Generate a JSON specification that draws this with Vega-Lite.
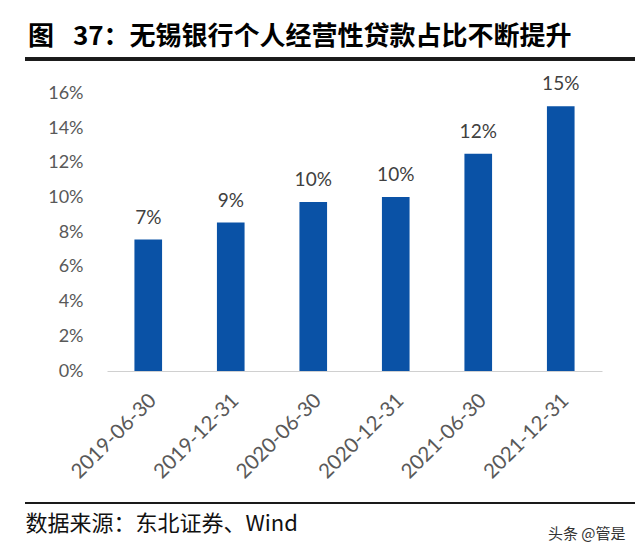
{
  "$schema": "https://vega.github.io/schema/vega-lite/v6.json",
  "autosize": "none",
  "width": 610,
  "height": 444,
  "padding": {"left": 25, "top": 59, "right": 5, "bottom": 52},
  "background": "white",
  "config": {
    "view": {"stroke": "#1a1a1a", "strokeWidth": 2, "strokeDash": [610, 444, 610, 444]}
  },
  "title": {
    "text": "图\u2002 37：无锡银行个人经营性贷款占比不断提升",
    "anchor": "start",
    "frame": "group",
    "font": "Noto Sans CJK SC",
    "fontSize": 26,
    "fontWeight": "bold",
    "color": "#000000",
    "dx": 3,
    "offset": 7
  },
  "data": {
    "values": [
      {"date": "2019-06-30", "ratio": 0.0757, "label": "7%"},
      {"date": "2019-12-31", "ratio": 0.0855, "label": "9%"},
      {"date": "2020-06-30", "ratio": 0.0973, "label": "10%"},
      {"date": "2020-12-31", "ratio": 0.1002, "label": "10%"},
      {"date": "2021-06-30", "ratio": 0.1252, "label": "12%"},
      {"date": "2021-12-31", "ratio": 0.1526, "label": "15%"}
    ]
  },
  "encoding": {
    "y": {
      "field": "ratio",
      "type": "quantitative",
      "scale": {"domain": [0, 0.16], "range": [312, 34.3], "nice": false, "zero": true},
      "axis": {
        "orient": "left",
        "offset": -62,
        "domain": false,
        "ticks": false,
        "grid": false,
        "values": [0, 0.02, 0.04, 0.06, 0.08, 0.1, 0.12, 0.14, 0.16],
        "format": ".0%",
        "labelPadding": 4,
        "labelFont": "Lato",
        "labelFontSize": 18,
        "labelColor": "#595959",
        "title": "头条 @管是",
        "titleFont": "Noto Sans CJK SC",
        "titleFontSize": 15,
        "titleFontWeight": "normal",
        "titleColor": "#333333",
        "titleAngle": 0,
        "titleAlign": "right",
        "titleBaseline": "middle",
        "titleX": 538,
        "titleY": 474
      }
    },
    "x": {
      "field": "date",
      "type": "nominal",
      "sort": null,
      "scale": {"range": [82, 577], "paddingInner": 0.665, "paddingOuter": 0.3325},
      "axis": {
        "orient": "bottom",
        "offset": -132,
        "domain": true,
        "domainColor": "#d0d0d0",
        "domainWidth": 1,
        "ticks": false,
        "labelAngle": -45,
        "labelAlign": "right",
        "labelBaseline": "middle",
        "labelPadding": 26,
        "labelOffset": 5,
        "labelFont": "Lato",
        "labelFontSize": 20.5,
        "labelColor": "#595959",
        "title": "数据来源：东北证券、Wind",
        "titleFont": "Noto Sans CJK SC",
        "titleFontSize": 22,
        "titleFontWeight": "normal",
        "titleColor": "#111111",
        "titleAlign": "left",
        "titleBaseline": "middle",
        "titleAngle": 0,
        "titleX": 0,
        "titleY": 152
      }
    }
  },
  "layer": [
    {"mark": {"type": "bar", "color": "#0a52a6"}},
    {
      "mark": {"type": "text", "baseline": "alphabetic", "dy": -16, "font": "Lato", "fontSize": 19, "color": "#404040"},
      "encoding": {"text": {"field": "label"}}
    },
    {
      "mark": {"type": "rule", "color": "#1a1a1a", "strokeWidth": 3},
      "encoding": {"y": {"datum": 0.1798}, "x": null}
    }
  ]
}
